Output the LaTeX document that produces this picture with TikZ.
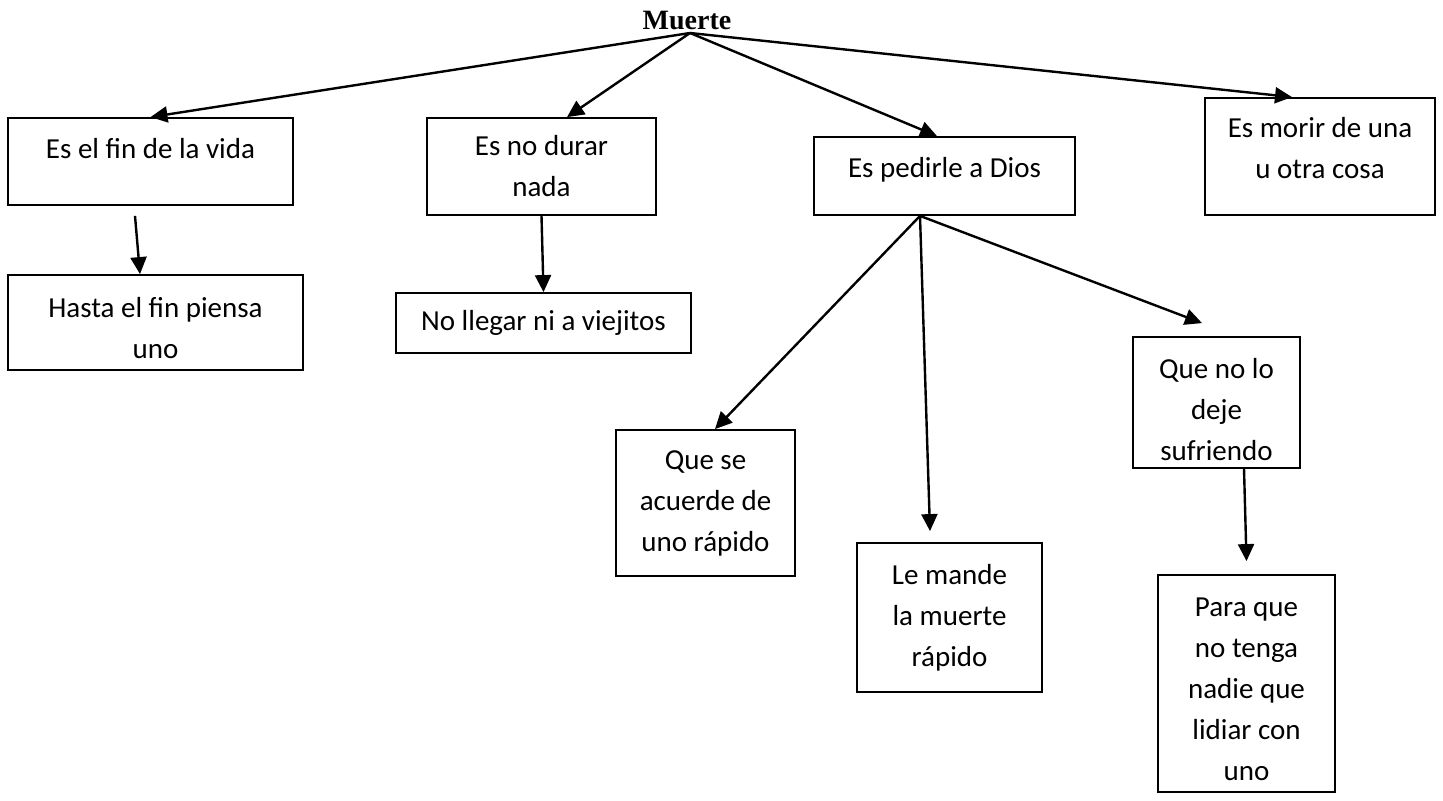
\documentclass[tikz,border=0pt]{standalone}
\usepackage{fontspec}
\setmainfont{Carlito}
\newfontfamily\titlefont{Liberation Serif}
\usetikzlibrary{arrows.meta}
\tikzset{box/.style={draw, line width=0.9pt, align=center, inner sep=0pt,
    font=\fontsize{14.5}{20.5}\selectfont},
  wh/.style 2 args={minimum width=#1, minimum height=#2},
  arr/.style={-{Triangle[length=8.5pt,width=8pt]}, line width=1.2pt}
}
\newcommand{\padbelow}[1]{\rule[-#1]{0pt}{0pt}}
\newcommand{\padabove}[1]{\rule{0pt}{#1}}

\begin{document}
\begin{tikzpicture}[x=0.5pt,y=-0.5pt]
                \useasboundingbox (0,0) rectangle (1443,801);

                % Title
                \node[inner sep=0pt, font=\titlefont\bfseries\fontsize{14}{16}\selectfont] (muerte) at (687,21) {Muerte};
                \coordinate (root) at (690,33);

                % First row
                \node[box, wh={142.5pt}{43.5pt}] (fin) at (150.5,161.5) {Es el fin de la vida\padbelow{13.5pt}};
                \node[box, wh={114.5pt}{48.5pt}] (durar) at (541.5,166.5) {Es no durar\\nada};
                \node[box, wh={130.5pt}{39pt}] (pedir) at (944.5,176) {Es pedirle a Dios\padbelow{9pt}};
                \node[box, wh={115pt}{58.5pt}] (morir) at (1320,156.5) {Es morir de una\\u otra cosa\padbelow{8.5pt}};

                % Second row
                \node[box, wh={147.5pt}{47.5pt}] (hasta) at (155.5,322.5) {\padabove{15.2pt}Hasta el fin piensa\\uno};
                \node[box, wh={147.5pt}{30pt}] (llegar) at (543.5,323) {No llegar ni a viejitos};
                \node[box, wh={83.5pt}{65.5pt}] (sufrir) at (1216.5,402.5) {\padabove{17pt}Que no lo\\deje\\sufriendo};

                % Bottom boxes
                \node[box, wh={89.5pt}{73pt}] (acuerde) at (705.5,503) {Que se\\acuerde de\\uno rápido};
                \node[box, wh={92.5pt}{74.5pt}] (mande) at (949.5,617.5) {Le mande\\la muerte\\rápido};
                \node[box, wh={88.5pt}{108.5pt}] (lidiar) at (1246.5,683.5) {\padabove{15.3pt}Para que\\no tenga\\nadie que\\lidiar con\\uno};

                % Arrows from the title
                \draw[arr] (root) -- (fin.north);
                \draw[arr] (root) -- ([xshift=12.75pt]durar.north);
                \draw[arr] (root) -- ([xshift=-3.75pt]pedir.north);
                \draw[arr] (root) -- ([xshift=-14pt]morir.north);

                \draw[arr] ([xshift=-7.75pt,yshift=-5pt]fin.south) -- ([xshift=-7.75pt]hasta.north);
                \draw[arr] (durar.south) -- (llegar.north);

                % Three arrows out of Es pedirle a Dios
                \coordinate (fork) at ([xshift=-12.25pt]pedir.south);
                \draw[arr] (fork) -- ([xshift=4.75pt]acuerde.north);
                \draw[arr] (fork) -- ([xshift=-9.75pt,yshift=5.5pt]mande.north);
                \draw[arr] (fork) -- ([xshift=-7.25pt,yshift=6.5pt]sufrir.north);

                \draw[arr] ([xshift=13.75pt]sufrir.south) -- ([yshift=6.5pt]lidiar.north);
\end{tikzpicture}
\end{document}
